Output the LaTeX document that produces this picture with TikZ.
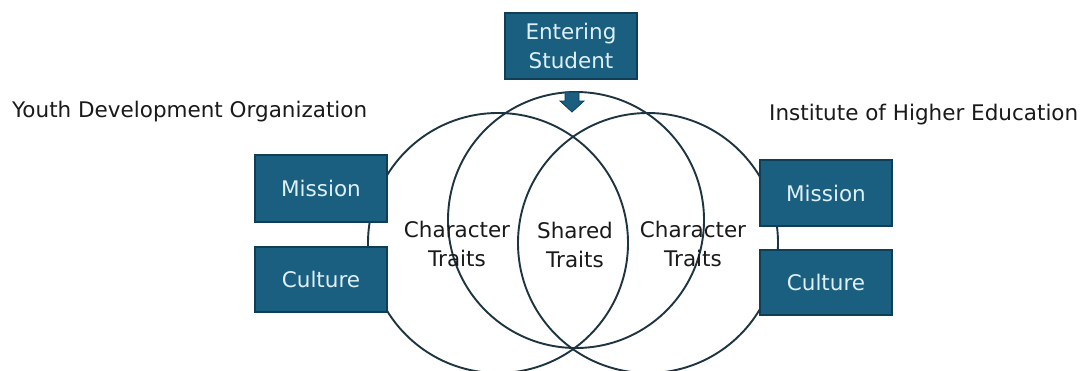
\documentclass[tikz,border=0pt]{standalone}
\usepackage{fontspec}
\usetikzlibrary{calc}
\setmainfont{DejaVu Sans}
\definecolor{boxfill}{HTML}{1A5E80}
\definecolor{boxedge}{HTML}{0F3F57}
\definecolor{boxtext}{HTML}{DDF0F7}
\definecolor{ringline}{HTML}{1E3440}
\definecolor{labeltext}{HTML}{1A1A1A}
\tikzset{
  ring/.style={draw=ringline, line width=1.9pt},
  bluebox/.style={draw=boxedge, line width=1.3pt, fill=boxfill, text=boxtext,
    minimum width=132pt, inner sep=0pt, align=center,
    font=\fontsize{21.5}{29}\selectfont},
  caption/.style={text=labeltext, inner sep=0pt, font=\fontsize{21.5}{27}\selectfont},
  trait/.style={text=labeltext, inner sep=0pt, align=center,
    font=\fontsize{21.5}{29}\selectfont},
  blockarrow/.style={fill=boxfill, draw=boxedge, line width=0.8pt}
}
\begin{document}
\begin{tikzpicture}[x=1pt, y=-1pt]
  \useasboundingbox (0,0) rectangle (1081,370);
  \fill[white] (0,0) rectangle (1081,370);

  % three overlapping circles
  \node[ring, circle, minimum size=260pt, inner sep=0pt] (leftring) at (498,243) {};
  \node[ring, circle, minimum size=256pt, inner sep=0pt] (midring) at (576,220) {};
  \node[ring, circle, minimum size=260pt, inner sep=0pt] (rightring) at (648,243) {};

  % entering student box and its arrow
  \node[bluebox, minimum height=66pt] (enter) at (571,46) {Entering\\Student};
  \coordinate (tip) at (572,112);
  \draw[blockarrow] ($(tip)+(-7,-20)$) -- ($(tip)+(7,-20)$) -- ($(tip)+(7,-11)$)
    -- ($(tip)+(12,-11)$) -- (tip) -- ($(tip)+(-12,-11)$) -- ($(tip)+(-7,-11)$) -- cycle;

  % organisation side boxes
  \node[bluebox, minimum height=67pt] (lmission) at (321,188.5) {Mission};
  \node[bluebox, minimum height=65pt] (lculture) at (321,279.5) {Culture};
  \node[bluebox, minimum height=66pt] (rmission) at (826,193) {Mission};
  \node[bluebox, minimum height=65pt] (rculture) at (826,282.5) {Culture};

  % captions
  \node[caption, anchor=west] (youth) at (12,112) {Youth Development Organization};
  \node[caption, anchor=west] (inst) at (769,115) {Institute of Higher Education};

  % region labels
  \node[trait] (lchar) at (457,243.5) {Character\\Traits};
  \node[trait] (shared) at (575,245) {Shared\\Traits};
  \node[trait] (rchar) at (693,243.5) {Character\\Traits};
\end{tikzpicture}
\end{document}
